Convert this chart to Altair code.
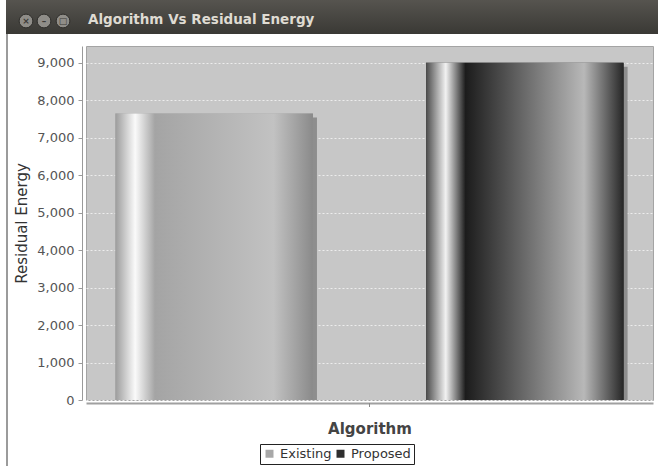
import altair as alt
import pandas as pd

# ---- data ----
series = ["Existing", "Proposed"]
values = [7650, 9000]
y_ticks = [0, 1000, 2000, 3000, 4000, 5000, 6000, 7000, 8000, 9000]
y_max = 9450
window_title = "Algorithm Vs Residual Energy"
x_title = "Algorithm"
y_title = "Residual Energy"

df = pd.DataFrame({"series": series, "value": values})
one = pd.DataFrame({"k": [0]})

W, H = 567, 354
FONT = "DejaVu Sans"


def hgrad(stops):
    return alt.Gradient(
        gradient="linear",
        stops=[alt.GradientStop(color=c, offset=o) for o, c in stops],
        x1=0, x2=1, y1=0, y2=0,
    )


grad_existing = hgrad([(0, "#9c9c9c"), (0.10, "#fafafa"), (0.20, "#a4a4a4"),
                       (0.80, "#c2c2c2"), (1.0, "#8a8a8a")])
grad_proposed = hgrad([(0, "#4a4a4a"), (0.10, "#f2f2f2"), (0.20, "#1c1c1c"),
                       (0.80, "#b8b8b8"), (1.0, "#262626")])

x_enc = alt.X(
    "series:N", sort=series,
    scale=alt.Scale(paddingInner=0.364, paddingOuter=0.0947),
    axis=alt.Axis(title=x_title, labels=False, ticks=False, offset=3,
                  domainColor="#a0a0a0", domainWidth=2,
                  titleFont=FONT, titleFontSize=15, titleFontWeight="bold",
                  titleColor="#444444", titlePadding=18),
)
y_enc = alt.Y(
    "value:Q",
    scale=alt.Scale(domain=[0, y_max], nice=False, zero=True),
    axis=alt.Axis(values=y_ticks, format=",d", offset=4,
                  domainColor="#9a9a9a", tickColor="#9a9a9a", tickSize=4,
                  labelFont=FONT, labelFontSize=13, labelColor="#555555",
                  labelPadding=4, grid=True, gridColor="#ededed",
                  gridDash=[2, 2], gridWidth=1,
                  title=y_title, titleFont=FONT, titleFontSize=15,
                  titleFontWeight="normal", titleColor="#333333",
                  titlePadding=7),
)

base = alt.Chart(df).encode(x=x_enc, y=y_enc)

shadow = base.mark_bar(color="#8e8e8e", xOffset=4, yOffset=4, clip=True)

solid = base.mark_bar().encode(
    color=alt.Color(
        "series:N",
        scale=alt.Scale(domain=series, range=["#a8a8a8", "#2e2e2e"]),
        legend=alt.Legend(
            title=None, orient="none", legendX=174, legendY=398,
            direction="horizontal", padding=3, strokeColor="#222222",
            fillColor="white", labelFont=FONT, labelFontSize=13,
            labelColor="#333333", symbolType="square", symbolSize=64,
            symbolStrokeWidth=0, labelOffset=4, columnPadding=2,
            cornerRadius=0,
        ),
    )
)

bar_existing = base.mark_bar(color=grad_existing).transform_filter(
    alt.datum.series == series[0])
bar_proposed = base.mark_bar(color=grad_proposed).transform_filter(
    alt.datum.series == series[1])

deco = alt.Chart(one)

center_tick = deco.mark_rule(color="#8a8a8a").encode(
    x=alt.value(W / 2), y=alt.value(H + 3), y2=alt.value(H + 7))

titlebar = deco.mark_rect(
    color=alt.Gradient(
        gradient="linear",
        stops=[alt.GradientStop(color="#56544f", offset=0),
               alt.GradientStop(color="#3a3935", offset=1)],
        x1=0, x2=0, y1=0, y2=1,
    )
).encode(x=alt.value(-80), x2=alt.value(W + 5), y=alt.value(-46), y2=alt.value(-12))

title_text = deco.mark_text(
    text=window_title, align="left", baseline="middle", font=FONT,
    fontSize=13.5, fontWeight="bold", color="#dfdbd2",
).encode(x=alt.value(2), y=alt.value(-26))

buttons = []
for bx, glyph in [(-60, "×"), (-42, "–"), (-23, "□")]:
    buttons.append(
        deco.mark_point(filled=True, shape="circle", size=190,
                        fill="#8f8d88", stroke="#2e2d2a", strokeWidth=1,
                        opacity=1).encode(x=alt.value(bx), y=alt.value(-25)))
    buttons.append(
        deco.mark_text(text=glyph, align="center", baseline="middle",
                       font=FONT, fontSize=9, fontWeight="bold",
                       color="#3c3b37").encode(x=alt.value(bx), y=alt.value(-25)))

left_border = deco.mark_rule(color="#7a7a7a", strokeWidth=1.5).encode(
    x=alt.value(-79), y=alt.value(-12), y2=alt.value(H + 66))

chart = alt.layer(
    shadow, solid, bar_existing, bar_proposed, center_tick,
    titlebar, title_text, *buttons, left_border,
).properties(
    width=W, height=H,
    autosize=alt.AutoSizeParams(type="none"),
    padding={"left": 86, "top": 46, "right": 5, "bottom": 66},
    background="white",
).configure_view(
    fill="#c7c7c7", stroke="#a4a4a4", strokeWidth=1,
)

chart.save("out.html", embed_options={"renderer": "svg", "actions": False})
